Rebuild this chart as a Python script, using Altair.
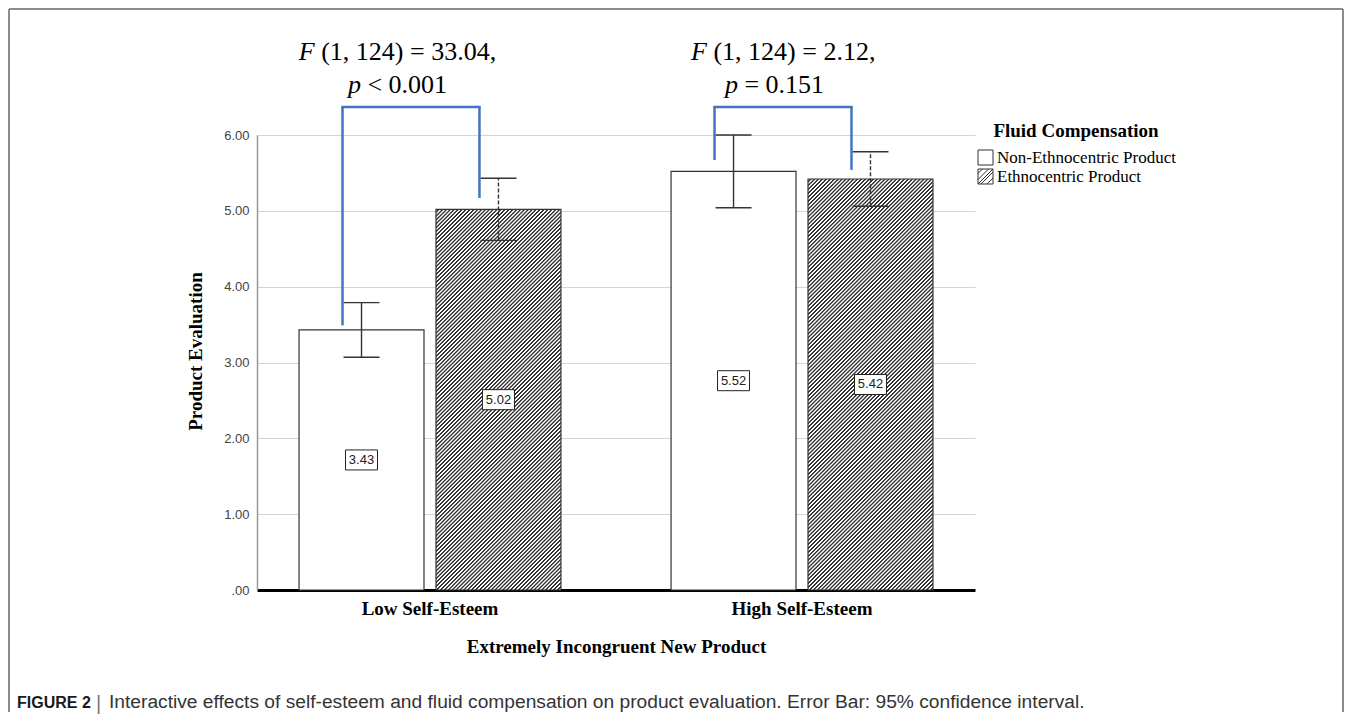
import altair as alt
import pandas as pd

# ---------------- data ----------------
groups = ["Low Self-Esteem", "High Self-Esteem"]
products = ["Non-Ethnocentric Product", "Ethnocentric Product"]

bar_group = ["Low Self-Esteem", "Low Self-Esteem", "High Self-Esteem", "High Self-Esteem"]
bar_product = ["Non-Ethnocentric Product", "Ethnocentric Product",
               "Non-Ethnocentric Product", "Ethnocentric Product"]
bar_mean = [3.43, 5.02, 5.52, 5.42]
ci_low = [3.07, 4.61, 5.04, 5.06]
ci_high = [3.79, 5.43, 6.00, 5.78]

bracket_top = [6.37, 6.37]              # per group
bracket_end = [3.49, 5.17, 5.67, 5.54]  # per bar

stat_group = ["Low Self-Esteem", "High Self-Esteem"]
stat_f_rest = ["(1, 124) = 33.04,", "(1, 124) = 2.12,"]
stat_p_rest = ["< 0.001", "= 0.151"]
stat_f_y = [6.99, 6.99]
stat_p_y = [6.55, 6.55]

y_tick_values = [0, 1, 2, 3, 4, 5, 6]
legend_title = "Fluid Compensation"
x_title = "Extremely Incongruent New Product"
y_title = "Product Evaluation"
caption_lead = "FIGURE 2"
caption_sep = "|"
caption_body = ("Interactive effects of self-esteem and fluid compensation on product "
                "evaluation. Error Bar: 95% confidence interval.")

# ---------------- layout / style ----------------
W, H = 718, 455
Y_MAX = 6
PAD_IN, PAD_OUT = 0.296, 0.113
OFF_PAD = 0.0876
step = W / (2 - PAD_IN + 2 * PAD_OUT)
band = step * (1 - PAD_IN)
step2 = band / (2 - OFF_PAD)
bar_w = step2 * (1 - OFF_PAD)
px_per_unit = H / Y_MAX
BRACKET_SHIFT = -19
BLUE = "#4472C4"
INK = "#333333"
SERIF = "Liberation Serif"
SANS = "Liberation Sans"

# Times metrics (per 1000 em) for centring the mixed italic/regular lines
TIMES = {" ": 250, "(": 333, ")": 333, ",": 250, ".": 250, "=": 564, "<": 564}
for d in "0123456789":
    TIMES[d] = 500
ITALIC_W = {"F": 611, "p": 500}
STAT_SIZE = 26
stat_center_dx = {("Low Self-Esteem", 0): -32.5, ("Low Self-Esteem", 1): -32.5,
                  ("High Self-Esteem", 0): -18.75, ("High Self-Esteem", 1): -27.5}


def tw(s, size):
    return sum(TIMES[c] for c in s) * size / 1000.0


def hatch_fill(w, h, period=3.9, dark_frac=0.5, soft=0.35, dark="#333333", light="#ffffff"):
    L = w + h
    c = L / (w * w + h * h)
    stops = []

    def add(pos, col):
        off = min(max(pos / L, 0.0), 1.0)
        stops.append({"offset": round(off, 6), "color": col})

    g = period * (1 - dark_frac)
    for k in range(int(L / period) + 2):
        base = k * period
        add(base + soft, light)
        add(base + g - soft, light)
        add(base + g + soft, dark)
        add(base + period - soft, dark)
    return {"gradient": "linear", "x1": 0, "y1": 0,
            "x2": round(c * w, 6), "y2": round(c * h, 6), "stops": stops}


SQ = "M-1,-1H1V1H-1Z"
HATCH_SYM = (SQ + " M-1,-0.4L-0.4,-1 M-1,0.4L0.4,-1 M-0.6,1L1,-0.6"
             " M0.2,1L1,0.2 M-1,1L1,-1")

df = pd.DataFrame({"group": bar_group, "product": bar_product, "mean": bar_mean,
                   "lo": ci_low, "hi": ci_high, "end": bracket_end})
df["top"] = [bracket_top[groups.index(g)] for g in bar_group]
df["label"] = [f"{v:.2f}" for v in bar_mean]
df["mid"] = df["mean"] / 2

x_axis = alt.Axis(title=x_title, labelAngle=0, labelFont=SERIF, labelFontSize=19,
                  labelFontWeight="bold", labelColor="black", labelPadding=9,
                  ticks=False, domainColor="black", domainWidth=3, grid=False,
                  titleFont=SERIF, titleFontSize=19, titleFontWeight="bold",
                  titleColor="black", titleBaseline="alphabetic", titleY=62)
y_axis = alt.Axis(values=y_tick_values,
                  labelExpr="datum.value == 0 ? '.00' : format(datum.value, '.2f')",
                  labelFont=SANS, labelFontSize=13, labelColor="#444444", labelPadding=8,
                  ticks=False, domainColor="#999999", domainWidth=1.5,
                  gridColor="#d4d4d4", gridWidth=1,
                  title=y_title, titleFont=SERIF, titleFontSize=19, titleFontWeight="bold",
                  titleColor="black", titleAngle=270, titleX=-62, titleY=216,
                  titleAlign="center", titleBaseline="middle")


def X():
    return alt.X("group:N", sort=groups,
                 scale=alt.Scale(type="band", domain=groups, paddingInner=PAD_IN,
                                 paddingOuter=PAD_OUT),
                 axis=x_axis)


def XO(shift=0):
    if shift:
        sc = alt.Scale(type="band", domain=products, paddingInner=OFF_PAD, paddingOuter=0,
                       range=[shift, band + shift])
    else:
        sc = alt.Scale(type="band", domain=products, paddingInner=OFF_PAD, paddingOuter=0)
    return alt.XOffset("product:N", sort=products, scale=sc)


def Y(field):
    return alt.Y(f"{field}:Q", scale=alt.Scale(domain=[0, Y_MAX], nice=False, zero=True),
                 axis=y_axis)


layers = []

# legend carrier (drawn first, hidden beneath the bars)
legend = alt.Legend(orient="none", legendX=720, legendY=-13, title=legend_title,
                    titleFont=SERIF, titleFontSize=19, titleFontWeight="bold",
                    titleColor="black", titleAnchor="middle", titlePadding=8,
                    labelFont=SERIF, labelFontSize=17, labelColor="black", labelOffset=3,
                    labelLimit=400,
                    symbolSize=225, symbolStrokeWidth=1, symbolStrokeColor=INK,
                    symbolOpacity=1, rowPadding=0, padding=0)
layers.append(
    alt.Chart(df).mark_point(filled=False, color=INK, strokeWidth=1, size=8, opacity=1)
    .encode(
        x=X(), xOffset=XO(), y=Y("mid"),
        shape=alt.Shape("product:N", sort=products,
                        scale=alt.Scale(domain=products, range=[SQ, HATCH_SYM]),
                        legend=legend))
)

# plain bars
layers.append(
    alt.Chart(df).transform_filter(alt.datum.product == products[0])
    .mark_bar(fill="white", stroke=INK, strokeWidth=1.2)
    .encode(x=X(), xOffset=XO(), y=Y("mean"))
)
# hatched bars
for g in groups:
    sub = df[(df["group"] == g) & (df["product"] == products[1])]
    h = float(sub["mean"].iloc[0]) * px_per_unit
    layers.append(
        alt.Chart(sub).mark_bar(fill=hatch_fill(bar_w, h), stroke=INK, strokeWidth=1.2)
        .encode(x=X(), xOffset=XO(), y=Y("mean"))
    )

# error bars
for prod, dash in [(products[0], None), (products[1], [4, 2])]:
    kw = dict(color=INK, strokeWidth=1.4)
    if dash:
        kw["strokeDash"] = dash
    base = alt.Chart(df).transform_filter(alt.datum.product == prod)
    layers.append(base.mark_rule(**kw).encode(x=X(), xOffset=XO(), y=Y("lo"), y2="hi"))
    layers.append(base.mark_tick(size=36, thickness=1.4, color=INK, opacity=1)
                  .encode(x=X(), xOffset=XO(), y=Y("lo")))
    layers.append(base.mark_tick(size=36, thickness=1.4, color=INK, opacity=1)
                  .encode(x=X(), xOffset=XO(), y=Y("hi")))

# value label boxes
layers.append(
    alt.Chart(df).mark_point(shape="M-1.6,-1H1.6V1H-1.6Z", size=400, filled=True,
                             fill="white", color="white", stroke="#222222",
                             strokeWidth=1, opacity=1)
    .encode(x=X(), xOffset=XO(), y=Y("mid"))
)
layers.append(
    alt.Chart(df).mark_text(font=SANS, fontSize=13, color="#222222", align="center",
                            baseline="middle")
    .encode(x=X(), xOffset=XO(), y=Y("mid"), text="label:N")
)

# significance brackets
layers.append(
    alt.Chart(df).mark_rule(color=BLUE, strokeWidth=2.5)
    .encode(x=X(), xOffset=XO(BRACKET_SHIFT), y=Y("top"), y2="end")
)
tops = pd.DataFrame({"group": groups, "top": bracket_top})
layers.append(
    alt.Chart(tops).mark_tick(size=step2 + 2.5, thickness=2.5, color=BLUE, opacity=1,
                              xOffset=BRACKET_SHIFT)
    .encode(x=X(), y=Y("top"))
)

# statistics annotations (italic F / p + regular remainder)
for i, g in enumerate(stat_group):
    for line, (ital, rest, yv) in enumerate([("F", stat_f_rest[i], stat_f_y[i]),
                                             ("p", stat_p_rest[i], stat_p_y[i])]):
        iw = ITALIC_W[ital] * STAT_SIZE / 1000.0
        total = iw + tw(" " + rest, STAT_SIZE)
        left = stat_center_dx[(g, line)] - total / 2
        d = pd.DataFrame({"group": [g], "sy": [yv], "ital": [ital], "rest": [rest]})
        common = dict(font=SERIF, fontSize=STAT_SIZE, color="black", align="left",
                      baseline="alphabetic")
        layers.append(alt.Chart(d).mark_text(dx=left, fontStyle="italic", **common)
                      .encode(x=X(), y=Y("sy"), text="ital:N"))
        layers.append(alt.Chart(d).mark_text(dx=left + iw + tw(" ", STAT_SIZE), **common)
                      .encode(x=X(), y=Y("sy"), text="rest:N"))

# figure frame (page decoration)
one = pd.DataFrame({"k": [0]})
FRAME = dict(color="#8c8c8c", strokeWidth=2)
layers.append(alt.Chart(one).mark_rule(**FRAME).encode(
    x=alt.value(-248), x2=alt.value(1086), y=alt.value(-126)))
layers.append(alt.Chart(one).mark_rule(**FRAME).encode(
    x=alt.value(-248), y=alt.value(-126), y2=alt.value(577)))
layers.append(alt.Chart(one).mark_rule(**FRAME).encode(
    x=alt.value(1086), y=alt.value(-126), y2=alt.value(577)))

# caption
cap = pd.DataFrame({"a": [caption_lead], "b": [caption_sep], "c": [caption_body]})
layers.append(alt.Chart(cap).mark_text(font=SANS, fontSize=16, fontWeight="bold",
                                       color="#1a1a1a", align="left", baseline="alphabetic")
              .encode(x=alt.value(-240), y=alt.value(573), text="a:N"))
layers.append(alt.Chart(cap).mark_text(font=SANS, fontSize=20, color="#777777",
                                       align="left", baseline="alphabetic")
              .encode(x=alt.value(-161), y=alt.value(575), text="b:N"))
layers.append(alt.Chart(cap).mark_text(font=SANS, fontSize=19.2, color="#333333",
                                       align="left", baseline="alphabetic")
              .encode(x=alt.value(-148), y=alt.value(573), text="c:N"))

chart = (alt.layer(*layers)
         .resolve_scale(xOffset="independent")
         .properties(width=W, height=H, padding=0)
         .configure_view(strokeWidth=0))

chart.save("out.html", embed_options={"renderer": "svg", "actions": False})
